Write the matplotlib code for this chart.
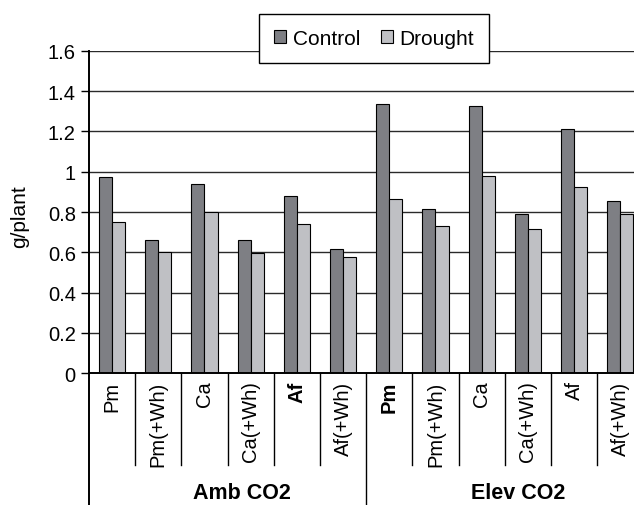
import matplotlib
matplotlib.use("Agg")
import matplotlib.pyplot as plt
import matplotlib.transforms as mtransforms
import numpy as np

plt.rcParams["font.family"] = ["Liberation Sans", "DejaVu Sans"]

## DADOS ##
categorias = ["Pm", "Pm(+Wh)", "Ca", "Ca(+Wh)", "Af", "Af(+Wh)",
              "Pm", "Pm(+Wh)", "Ca", "Ca(+Wh)", "Af", "Af(+Wh)"]
negrito = [False, False, False, False, True, False,
           True, False, False, False, False, False]
controle = [0.975, 0.66, 0.94, 0.66, 0.88, 0.615,
            1.335, 0.815, 1.325, 0.79, 1.212, 0.857]
seca = [0.75, 0.60, 0.80, 0.595, 0.74, 0.575,
        0.865, 0.73, 0.98, 0.716, 0.923, 0.79]
grupos = ["Amb CO2", "Elev CO2"]
series = ["Control", "Drought"]

cor_controle = "#7e7f84"
cor_seca = "#bfc0c4"

fig = plt.figure(figsize = (6.34, 5.06), dpi = 100)
# eixo estende além da borda direita (gráfico cortado)
ax = fig.add_axes([89/634, 131.7/506, 554.4/634, 322.4/506])

x = np.arange(len(categorias))
larg = 0.285
ax.bar(x - larg/2, controle, larg, color = cor_controle, edgecolor = "black",
       linewidth = 0.8, label = series[0], zorder = 3)
ax.bar(x + larg/2, seca, larg, color = cor_seca, edgecolor = "black",
       linewidth = 0.8, label = series[1], zorder = 3)

ax.set_xlim(-0.5, len(categorias) - 0.5)
ax.set_ylim(0, 1.6)
ax.set_yticks(np.arange(0, 1.61, 0.2))
ax.set_yticklabels(["0", "0.2", "0.4", "0.6", "0.8", "1", "1.2", "1.4", "1.6"])
ax.yaxis.grid(True, color = "#2a2a2a", linewidth = 1.0, zorder = 0)
ax.set_axisbelow(True)
for s in ["top", "right"]:
    ax.spines[s].set_visible(False)
ax.spines["left"].set_linewidth(1.4)
ax.spines["bottom"].set_linewidth(1.4)
ax.spines["bottom"].set_zorder(4)
ax.tick_params(axis = "y", labelsize = 14.5, length = 5.5, width = 1.0, pad = 4)
ax.set_xticks([])
ax.set_ylabel("g/plant", fontsize = 15)
ax.yaxis.set_label_coords(-(89 - 29)/554.4, 0.49)

# rótulos de categoria e divisórias
trans = mtransforms.blended_transform_factory(ax.transData, ax.transAxes)
y_div = -92/322.4
y_fim = -131.7/322.4
for i, (cat, neg) in enumerate(zip(categorias, negrito)):
    ax.text(i, -0.022, cat, transform = trans, rotation = 90, ha = "center", va = "top",
            fontsize = 14.5, fontweight = "bold" if neg else "normal")
for i in range(1, len(categorias)):
    fim = y_fim if i == 6 else y_div
    ax.plot([i - 0.5, i - 0.5], [0, fim], transform = trans, color = "black",
            linewidth = 1.0, clip_on = False)
ax.plot([-0.5, -0.5], [0, y_fim], transform = trans, color = "black",
        linewidth = 1.4, clip_on = False)
ax.text(2.8, -0.370, grupos[0], transform = trans, ha = "center", va = "center",
        fontsize = 15.5, fontweight = "bold")
ax.text(8.8, -0.370, grupos[1], transform = trans, ha = "center", va = "center",
        fontsize = 15.5, fontweight = "bold")

leg = fig.legend(loc = "center", bbox_to_anchor = (374/634, 1 - 39.5/506), ncol = 2,
                 fontsize = 15, frameon = True, fancybox = False, framealpha = 1,
                 edgecolor = "black", handlelength = 0.6, handleheight = 0.6,
                 handletextpad = 0.3, columnspacing = 1.0, borderpad = 0.7)
leg.get_frame().set_linewidth(1.0)

plt.savefig("out.png", dpi = 100)
